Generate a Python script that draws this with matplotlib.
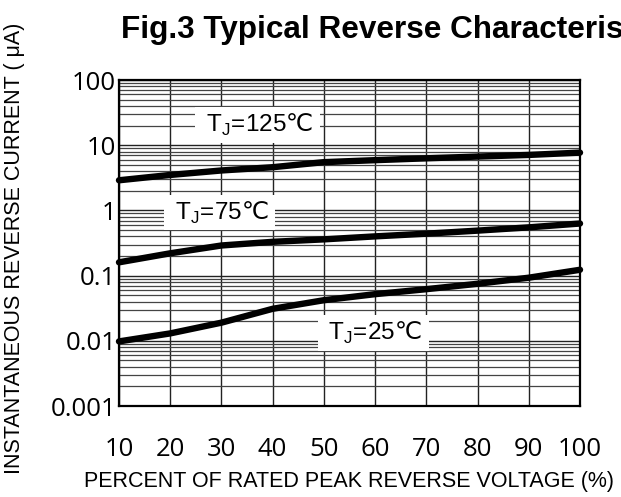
import numpy as np
import matplotlib
matplotlib.use('Agg')
import matplotlib.pyplot as plt
from matplotlib.ticker import FixedLocator, LogLocator, NullFormatter

# percent of rated peak reverse voltage
voltage_pct = [10, 20, 30, 40, 50, 60, 70, 80, 90, 100]

# reverse current (uA)
ir_125 = [2.9, 3.5, 4.1, 4.6, 5.5, 5.9, 6.3, 6.7, 7.1, 7.7]
ir_75 = [0.16, 0.22, 0.29, 0.33, 0.36, 0.40, 0.44, 0.49, 0.55, 0.63]
ir_25 = [0.0098, 0.013, 0.019, 0.031, 0.042, 0.052, 0.062, 0.075, 0.093, 0.123]

y_ticks = [0.001, 0.01, 0.1, 1, 10, 100]
y_tick_labels = ['0.001', '0.01', '0.1', '1', '10', '100']

temps = ['125', '75', '25']
label_pos = [(37, 20.4), (29.7, 0.93), (59.6, 0.0133)]

sans = ['Liberation Sans', 'DejaVu Sans']
plt.rcParams['mathtext.fontset'] = 'dejavusans'

fig = plt.figure(figsize=(6.21, 4.97), dpi=100)
ax = fig.add_axes([0.1916, 0.183, 0.7424, 0.656])

ax.set_yscale('log')
ax.set_xlim(10, 100)
ax.set_ylim(0.001, 100)

# chart-paper grid
ax.xaxis.set_major_locator(FixedLocator(voltage_pct))
ax.yaxis.set_major_locator(FixedLocator(y_ticks))
ax.yaxis.set_minor_locator(LogLocator(base=10, subs=np.arange(2, 10)))
ax.yaxis.set_minor_formatter(NullFormatter())
ax.grid(which='major', axis='both', color='#222222', lw=1.0)
ax.grid(which='minor', axis='y', color='#444444', lw=0.9)
ax.set_axisbelow(True)

for curve in (ir_125, ir_75, ir_25):
    ax.plot(voltage_pct, curve, color='black', lw=4.6,
            solid_capstyle='round', solid_joinstyle='round', zorder=3,
            clip_on=False)

for t, (x, y) in zip(temps, label_pos):
    txt = ' T$_\\mathregular{J}$=' + t + '$\\mathrm{℃}$ '
    ax.text(x, y, txt, fontsize=17.5, family=sans, ha='center', va='center',
            zorder=2, bbox=dict(facecolor='white', edgecolor='none',
                                boxstyle='square,pad=0.2'))

ax.set_yticklabels(y_tick_labels)
ax.tick_params(axis='both', which='both', length=0)
ax.tick_params(axis='y', pad=2, labelsize=18.5)
ax.tick_params(axis='x', pad=22, labelsize=18.5)
for lbl in ax.get_xticklabels() + ax.get_yticklabels():
    lbl.set_family(['Open Sans', 'DejaVu Sans'])

for sp in ax.spines.values():
    sp.set_linewidth(1.6)
    sp.set_zorder(4)

ax.set_xlabel('PERCENT OF RATED PEAK REVERSE VOLTAGE (%)', fontsize=15.5,
              family=sans, labelpad=7)
fig.text(0.024, 0.5, 'INSTANTANEOUS REVERSE CURRENT ( μA)', rotation=90,
         fontsize=15.5, family=sans, ha='center', va='center')

fig.text(0.195, 0.94, 'Fig.3 Typical Reverse Characteristics', fontsize=22.7,
         fontweight='bold', family=sans, ha='left', va='center')

fig.savefig('out.png', dpi=100)
